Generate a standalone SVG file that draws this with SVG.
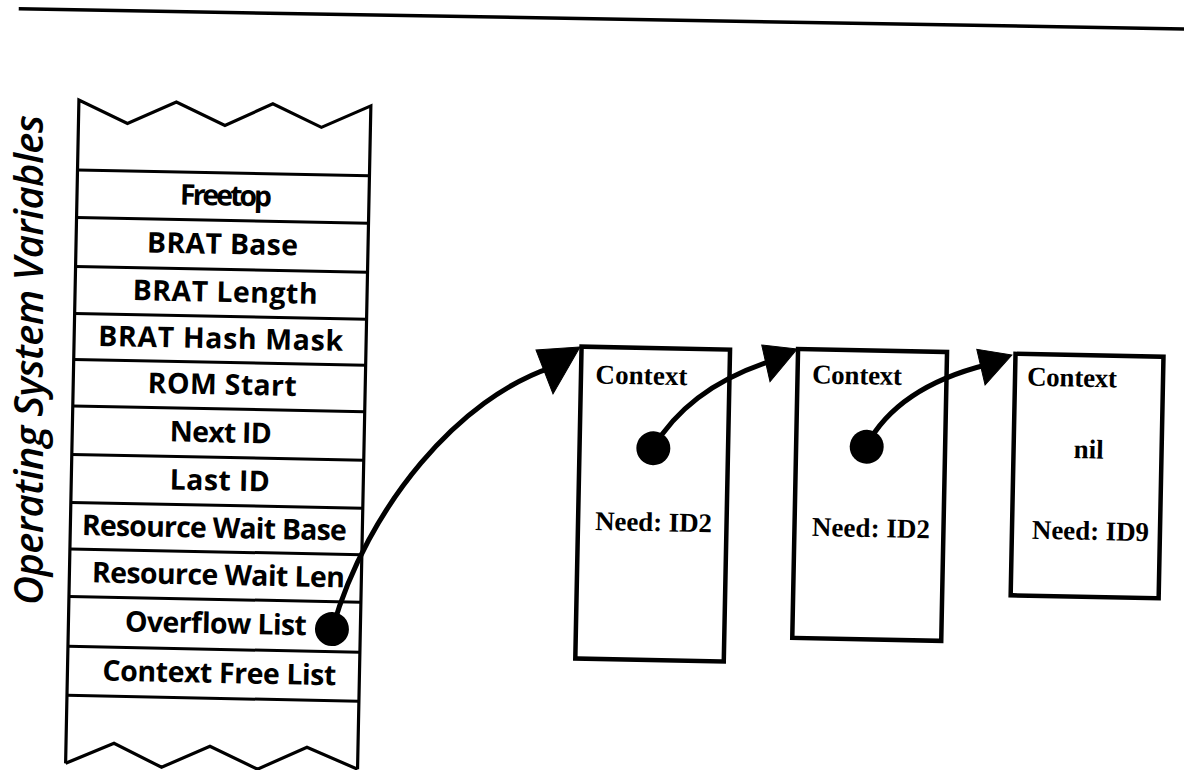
<svg xmlns="http://www.w3.org/2000/svg" width="1184" height="770" viewBox="0 0 1184 770">
  <style>
    .edge { fill: none; stroke: #000; stroke-width: 3.2; stroke-linejoin: miter; }
    .row { fill: none; stroke: #000; stroke-width: 3; }
    .box { fill: #fff; stroke: #000; stroke-width: 4.5; }
    .lbl { font-family: "Open Sans", "Liberation Sans", Arial, sans-serif; font-weight: 700; font-size: 28.5px; fill: #000; text-anchor: middle; }
    .ctx { font-family: "Liberation Serif", "Times New Roman", serif; font-weight: bold; font-size: 27px; fill: #000; }
    .dot { fill: #000; }
    .link { fill: none; stroke: #000; stroke-width: 5; }
    .head { fill: #000; stroke: #000; stroke-width: 1; stroke-linejoin: miter; }
    .title { font-family: "Open Sans", "Liberation Sans", Arial, sans-serif; font-style: italic; font-weight: 600; font-size: 40px; fill: #000; text-anchor: middle; }
  </style>
  <rect x="0" y="0" width="1184" height="770" fill="#fff"/>

  <text class="title" transform="translate(43 360) rotate(-90)" x="0" y="0" textLength="490">Operating System Variables</text>

  <g transform="rotate(1.15 600 400)">
    <line id="rule" x1="11" y1="20.6" x2="1195" y2="17.2" stroke="#000" stroke-width="3.5"/>

    <g id="os-vars">
      <path class="edge" d="M73,774 L73,110.5 L122,133 L170.5,110.5 L219.5,133 L267,110.5 L316,133 L365,110.5 L365,774"/>
      <path class="edge" d="M73,774 L121,753 L169,776 L217,754 L265,776 L314,753 L365,774"/>
      <g id="row-lines">
        <line class="row" x1="73" y1="180.5" x2="365" y2="180.5"/>
        <line class="row" x1="73" y1="228" x2="365" y2="228"/>
        <line class="row" x1="73" y1="277" x2="365" y2="277"/>
        <line class="row" x1="73" y1="324" x2="365" y2="324"/>
        <line class="row" x1="73" y1="370" x2="365" y2="370"/>
        <line class="row" x1="73" y1="416.5" x2="365" y2="416.5"/>
        <line class="row" x1="73" y1="465" x2="365" y2="465"/>
        <line class="row" x1="73" y1="513" x2="365" y2="513"/>
        <line class="row" x1="73" y1="559.5" x2="365" y2="559.5"/>
        <line class="row" x1="73" y1="607" x2="365" y2="607"/>
        <line class="row" x1="73" y1="657" x2="365" y2="657"/>
        <line class="row" x1="73" y1="706" x2="365" y2="706"/>
      </g>
      <g id="var-freetop"><text class="lbl" x="222" y="213" textLength="92">Freetop</text></g>
      <g id="var-brat-base"><text class="lbl" x="219.5" y="261.5" textLength="151">BRAT Base</text></g>
      <g id="var-brat-length"><text class="lbl" x="223" y="309.5" textLength="185">BRAT Length</text></g>
      <g id="var-brat-hash-mask"><text class="lbl" x="219.5" y="356" textLength="245">BRAT Hash Mask</text></g>
      <g id="var-rom-start"><text class="lbl" x="222" y="402" textLength="149">ROM Start</text></g>
      <g id="var-next-id"><text class="lbl" x="221.5" y="450" textLength="102">Next ID</text></g>
      <g id="var-last-id"><text class="lbl" x="221.5" y="498" textLength="100">Last ID</text></g>
      <g id="var-resource-wait-base"><text class="lbl" x="217" y="545.5" textLength="265">Resource Wait Base</text></g>
      <g id="var-resource-wait-len"><text class="lbl" x="222" y="592.5" textLength="253">Resource Wait Len</text></g>
      <g id="var-overflow-list">
        <text class="lbl" x="220.5" y="641" textLength="182">Overflow List</text>
        <circle class="dot" cx="336.6" cy="634.4" r="17"/>
      </g>
      <g id="var-context-free-list"><text class="lbl" x="225" y="690.5" textLength="234">Context Free List</text></g>
    </g>

    <g id="ctx1">
      <rect class="box" x="580.5" y="347" width="148.5" height="312"/>
      <text class="ctx" x="595" y="383.5" textLength="92">Context</text>
      <circle class="dot" cx="654.3" cy="447.2" r="17"/>
      <text class="ctx" x="597.5" y="530" textLength="117">Need: ID2</text>
    </g>

    <g id="ctx2">
      <rect class="box" x="797" y="345" width="149" height="289"/>
      <text class="ctx" x="811.5" y="379" textLength="90">Context</text>
      <circle class="dot" cx="867.6" cy="441.4" r="17"/>
      <text class="ctx" x="814.5" y="531.5" textLength="118">Need: ID2</text>
    </g>

    <g id="ctx3">
      <rect class="box" x="1014.5" y="345.5" width="148" height="241.5"/>
      <text class="ctx" x="1026.5" y="377" textLength="90">Context</text>
      <text class="ctx" x="1089.5" y="448.5" text-anchor="middle" textLength="30">nil</text>
      <text class="ctx" x="1034.5" y="530" textLength="117">Need: ID9</text>
    </g>

    <g id="connectors">
      <path class="link" d="M337,634 C370,510 460,400 552,368"/>
      <polygon class="head" points="578.9,347.4 535,351.3 552.9,394.9"/>
      <path class="link" d="M654,447 C675,410 710,378 772,357"/>
      <polygon class="head" points="796,345.1 760.6,341.8 769.6,378.3"/>
      <path class="link" d="M867,441 C885,405 920,375 986,357"/>
      <polygon class="head" points="1010.8,346.8 975.7,341.8 984.7,377.3"/>
    </g>
  </g>
</svg>
